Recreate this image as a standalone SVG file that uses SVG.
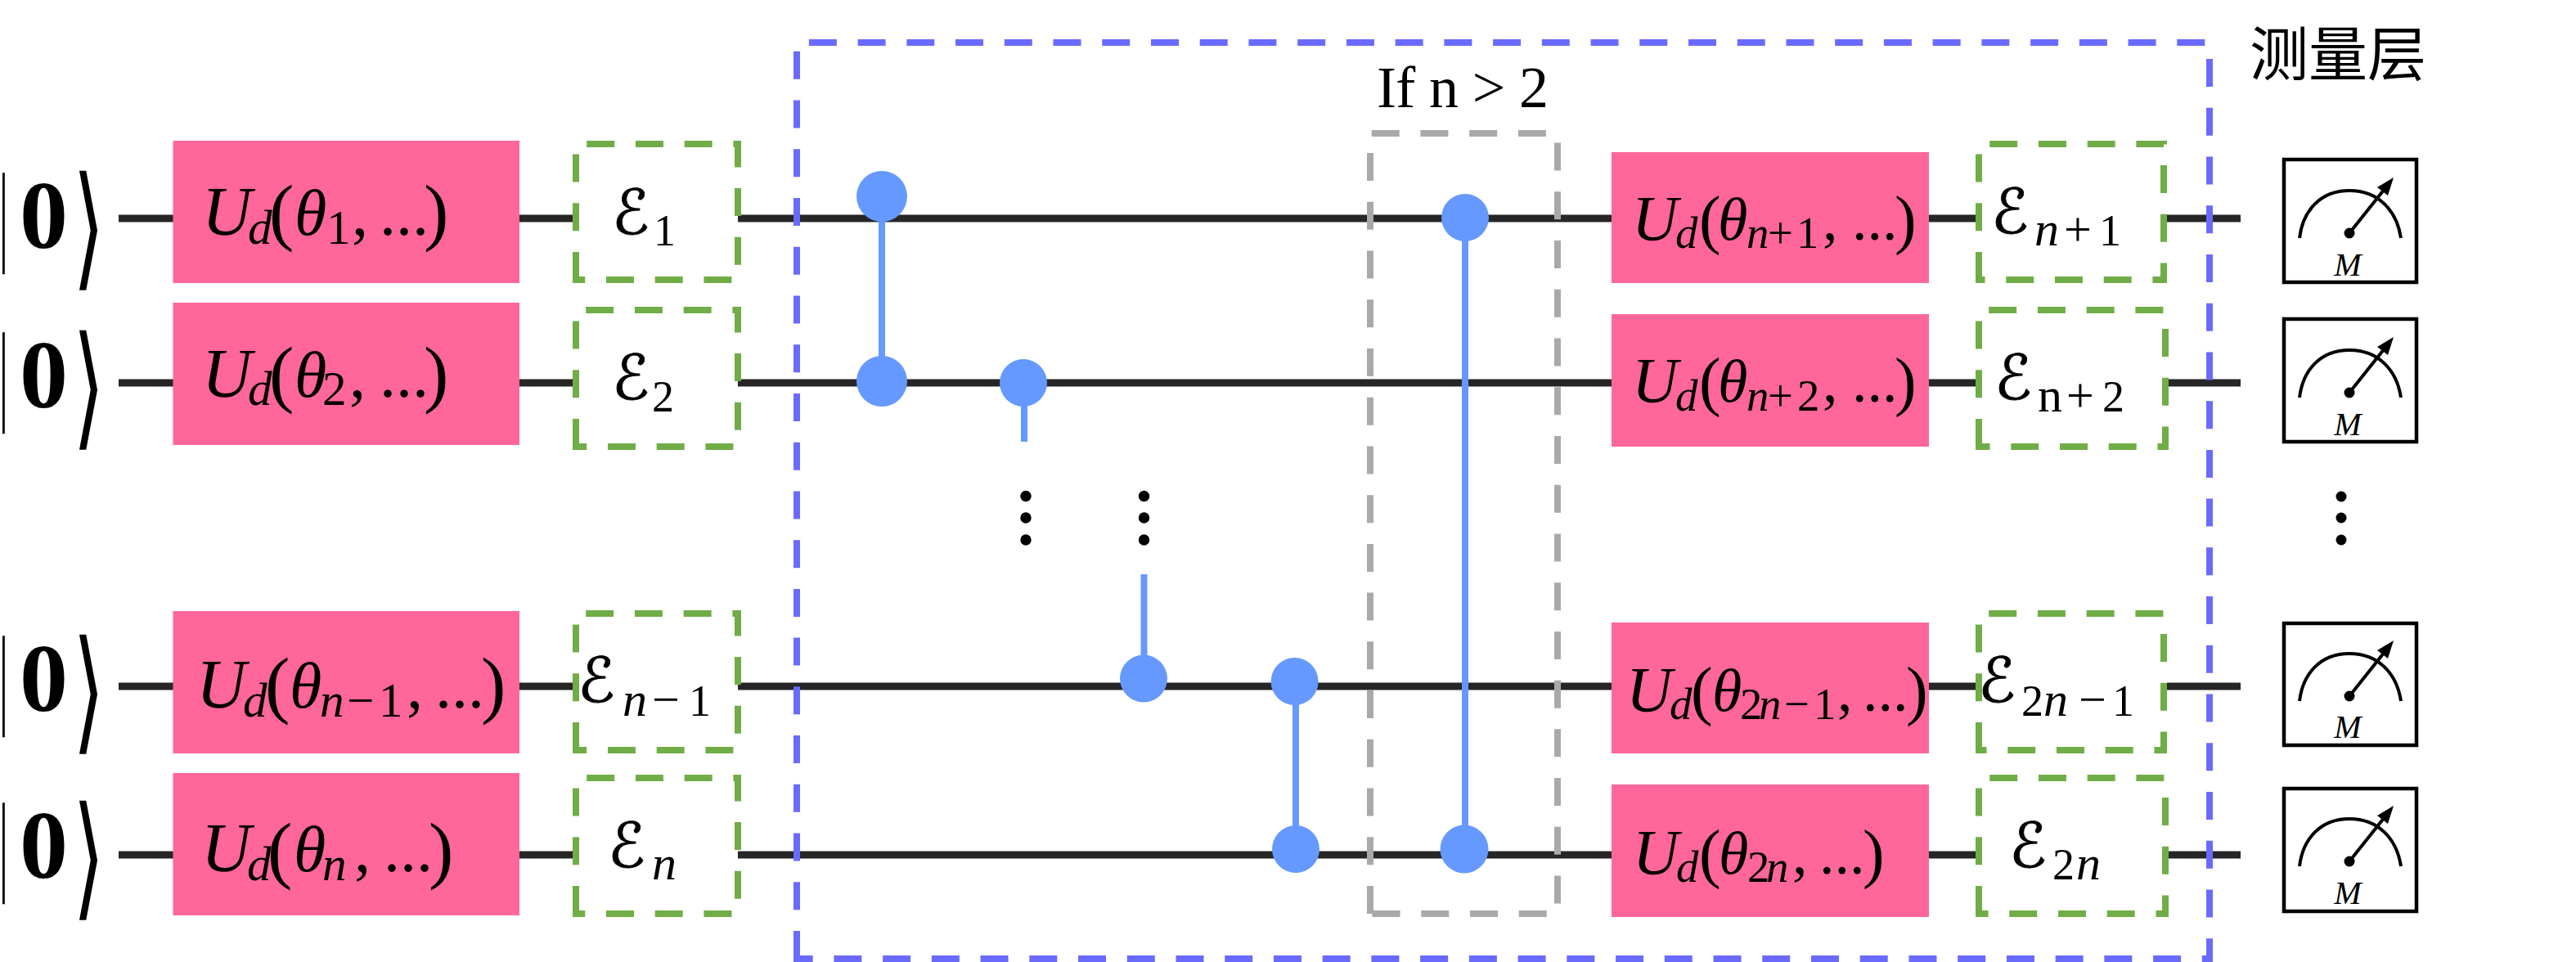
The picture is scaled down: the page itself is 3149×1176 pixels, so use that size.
<svg xmlns="http://www.w3.org/2000/svg" width="3149" height="1176" viewBox="0 0 3149 1176">
<style>
.bg{fill:#fff}
.wire{fill:none;stroke:#262626;stroke-width:9}
.ctrl{stroke:#6699FF;stroke-width:8;fill:none}
.dot{fill:#6699FF}
.pink{fill:#FF6699}
.green{fill:#fff;stroke:#70AD47;stroke-width:8;stroke-dasharray:34 25.73}
.blue{fill:none;stroke:#6A6AFF;stroke-width:8;stroke-dasharray:34 25.73}
.gray{fill:none;stroke:#A9A9A9;stroke-width:8;stroke-dasharray:34 25.73}
text{font-family:"Liberation Serif","Noto Sans CJK SC",serif;fill:#000}
.ml{font-size:80px;font-style:italic}
.mr{font-size:74px;font-style:italic}
.U{font-size:1.05em}
.s{font-size:.74em}
.r{font-style:normal}
.p{font-size:1.14em;font-style:normal}
.pr{font-size:1.08em;font-style:normal}
.ee{font-size:60px;font-style:italic}
.d{font-size:54px}
.E{font-family:"DejaVu Sans",sans-serif;font-size:76px;font-style:normal;stroke:#000;stroke-width:.8}
.z{font-size:118px;font-weight:bold}
.b{font-size:135px;stroke:#000;stroke-width:.6}
.a{font-family:"DejaVu Sans",sans-serif;font-size:149px}
.meter{fill:#fff;stroke:#000;stroke-width:4.5}
.arc{fill:none;stroke:#000;stroke-width:4}
.M{font-size:40px;font-style:italic;text-anchor:middle}
</style>
<defs>
<g id="gauge">
<path class="arc" d="M2811 291C2815 258 2836 233 2872 233C2908 233 2930 258 2935 291"/>
<line x1="2872" y1="285" x2="2915" y2="231" stroke="#000" stroke-width="4"/>
<polygon points="2926,217 2919,239 2906,229"/>
<circle cx="2872" cy="285" r="6.5"/>
</g>
</defs>
<rect class="bg" width="3149" height="1176"/>
<g id="connectors">
<path class="wire" d="M145 267H212M635 267H700M902 267H1970M2358 267H2416M2649 267H2739"/>
<path class="wire" d="M145 468H212M635 468H700M902 468H1970M2358 468H2416M2651 468H2739"/>
<path class="wire" d="M145 839H212M635 839H700M902 839H1970M2358 839H2416M2649 839H2739"/>
<path class="wire" d="M145 1045H212M635 1045H700M902 1045H1970M2358 1045H2416M2651 1045H2739"/>
<path class="ctrl" d="M1078 240V466M1252 468V540M1791 266V1038M1398.5 702V830M1584 833V1038"/>
</g>
<g id="if-box"><path class="gray" d="M1675 1117V163H1904V1117Z"/></g>
<g id="entangle-box"><path class="blue" d="M974 1172V52H2701V1172Z"/></g>
<g id="controls">
<circle class="dot" cx="1078" cy="240" r="31"/>
<circle class="dot" cx="1078" cy="466" r="31"/>
<circle class="dot" cx="1251" cy="468" r="29"/>
<circle class="dot" cx="1791" cy="266" r="29"/>
<circle class="dot" cx="1398" cy="829.5" r="29"/>
<circle class="dot" cx="1582.6" cy="833" r="29"/>
<circle class="dot" cx="1584" cy="1038" r="29"/>
<circle class="dot" cx="1790" cy="1038" r="29.5"/>
</g>
<g id="ellipsis">
<circle cx="1254" cy="606.5" r="6.7"/><circle cx="1254" cy="633" r="6.7"/><circle cx="1254" cy="660" r="6.7"/>
<circle cx="1398.5" cy="606.5" r="6.7"/><circle cx="1398.5" cy="633" r="6.7"/><circle cx="1398.5" cy="660" r="6.7"/>
<circle cx="2862" cy="607" r="6.5"/><circle cx="2862" cy="633" r="6.5"/><circle cx="2862" cy="660" r="6.5"/>
</g>
<g id="ket-1"><text class="b" transform="translate(-1 306) scale(.4 1)">|</text><text class="z" x="24" y="303">0</text><text class="a" transform="translate(89 333) scale(.67 1.1)">⟩</text></g>
<g id="ket-2"><text class="b" transform="translate(-1 501) scale(.4 1)">|</text><text class="z" x="24" y="498">0</text><text class="a" transform="translate(89 528) scale(.67 1.1)">⟩</text></g>
<g id="ket-3"><text class="b" transform="translate(-1 872) scale(.4 1)">|</text><text class="z" x="24" y="869">0</text><text class="a" transform="translate(89 900) scale(.67 1.1)">⟩</text></g>
<g id="ket-4"><text class="b" transform="translate(-1 1076) scale(.4 1)">|</text><text class="z" x="24" y="1073">0</text><text class="a" transform="translate(89 1103) scale(.67 1.1)">⟩</text></g>

<g id="u-1"><rect class="pink" x="211.5" y="172" width="423.5" height="174"/>
<text class="ml"><tspan class="U" x="247" y="287">U</tspan><tspan class="s" x="303" y="298">d</tspan><tspan class="p" x="329" y="289">(</tspan><tspan x="360" y="287">θ</tspan><tspan class="s r" x="399" y="298">1</tspan><tspan class="r" x="430" y="287">,</tspan><tspan class="r" x="464" y="287">...</tspan><tspan class="p" x="518" y="289">)</tspan></text></g>
<g id="u-2"><rect class="pink" x="211.5" y="370" width="423.5" height="174"/>
<text class="ml"><tspan class="U" x="247" y="485">U</tspan><tspan class="s" x="303" y="495">d</tspan><tspan class="p" x="329" y="487">(</tspan><tspan x="360" y="485">θ</tspan><tspan class="s r" x="394" y="495">2</tspan><tspan class="r" x="427" y="485">,</tspan><tspan class="r" x="464" y="485">...</tspan><tspan class="p" x="518" y="487">)</tspan></text></g>
<g id="u-3"><rect class="pink" x="211.5" y="747" width="423.5" height="174"/>
<text class="ml"><tspan class="U" x="240" y="865">U</tspan><tspan class="s" x="297" y="876">d</tspan><tspan class="p" x="324" y="867">(</tspan><tspan x="354" y="865">θ</tspan><tspan class="s" x="391" y="876">n</tspan><tspan class="s r" x="424" y="876">−</tspan><tspan class="s r" x="463" y="876">1</tspan><tspan class="r" x="497" y="865">,</tspan><tspan class="r" x="532" y="865">...</tspan><tspan class="p" x="588" y="867">)</tspan></text></g>
<g id="u-4"><rect class="pink" x="211.5" y="945" width="423.5" height="174"/>
<text class="ml"><tspan class="U" x="246" y="1065">U</tspan><tspan class="s" x="302" y="1076">d</tspan><tspan class="p" x="327" y="1069">(</tspan><tspan x="359" y="1065">θ</tspan><tspan class="s" x="394" y="1076">n</tspan><tspan class="r" x="433" y="1065">,</tspan><tspan class="r" x="469" y="1065">...</tspan><tspan class="p" x="524" y="1069">)</tspan></text></g>

<g id="e-1"><path class="green" d="M704 342V176H902V342Z"/>
<text class="ee"><tspan class="E" x="748" y="286">ℰ</tspan><tspan class="r d" x="799" y="300">1</tspan></text></g>
<g id="e-2"><path class="green" d="M704 546V379H902V546Z"/>
<text class="ee"><tspan class="E" x="748" y="488">ℰ</tspan><tspan class="r d" x="797" y="503">2</tspan></text></g>
<g id="e-3"><path class="green" d="M704 917V750H902V917Z"/>
<text class="ee"><tspan class="E" x="706" y="858">ℰ</tspan><tspan x="761" y="875">n</tspan><tspan class="r" x="797" y="875">−</tspan><tspan class="r d" x="842" y="875">1</tspan></text></g>
<g id="e-4"><path class="green" d="M704 1117V951H902V1117Z"/>
<text class="ee"><tspan class="E" x="743" y="1060">ℰ</tspan><tspan x="797" y="1075">n</tspan></text></g>

<g id="u-5"><rect class="pink" x="1970" y="186" width="388" height="160"/>
<text class="mr"><tspan class="U" x="1995" y="293">U</tspan><tspan class="s" x="2048" y="303">d</tspan><tspan class="pr" x="2077" y="295">(</tspan><tspan x="2100" y="293">θ</tspan><tspan class="s" x="2135" y="303">n</tspan><tspan class="s r" x="2161" y="303">+</tspan><tspan class="s r" x="2196" y="303">1</tspan><tspan class="r" x="2228" y="293">,</tspan><tspan class="r" x="2264" y="293">...</tspan><tspan class="pr" x="2316" y="295">)</tspan></text></g>
<g id="u-6"><rect class="pink" x="1970" y="384" width="388" height="162"/>
<text class="mr"><tspan class="U" x="1995" y="491">U</tspan><tspan class="s" x="2048" y="502">d</tspan><tspan class="pr" x="2077" y="493">(</tspan><tspan x="2100" y="491">θ</tspan><tspan class="s" x="2135" y="502">n</tspan><tspan class="s r" x="2161" y="502">+</tspan><tspan class="s r" x="2197" y="502">2</tspan><tspan class="r" x="2228" y="491">,</tspan><tspan class="r" x="2264" y="491">...</tspan><tspan class="pr" x="2316" y="493">)</tspan></text></g>
<g id="u-7"><rect class="pink" x="1970" y="761" width="388" height="160"/>
<text class="mr"><tspan class="U" x="1988" y="869">U</tspan><tspan class="s" x="2041" y="879">d</tspan><tspan class="pr" x="2067" y="871">(</tspan><tspan x="2093" y="869">θ</tspan><tspan class="s r" x="2127" y="879">2</tspan><tspan class="s" x="2150" y="879">n</tspan><tspan class="s r" x="2181" y="879">−</tspan><tspan class="s r" x="2217" y="879">1</tspan><tspan class="r" x="2246" y="869">,</tspan><tspan class="r" x="2277" y="869">...</tspan><tspan class="pr" x="2330" y="871">)</tspan></text></g>
<g id="u-8"><rect class="pink" x="1970" y="959" width="388" height="162"/>
<text class="mr"><tspan class="U" x="1996" y="1068">U</tspan><tspan class="s" x="2049" y="1078">d</tspan><tspan class="pr" x="2077" y="1070">(</tspan><tspan x="2101" y="1068">θ</tspan><tspan class="s r" x="2136" y="1078">2</tspan><tspan class="s" x="2159" y="1078">n</tspan><tspan class="r" x="2191" y="1068">,</tspan><tspan class="r" x="2224" y="1068">...</tspan><tspan class="pr" x="2277" y="1070">)</tspan></text></g>

<g id="e-5"><path class="green" d="M2419 342V176H2645V342Z"/>
<text class="ee"><tspan class="E" x="2434" y="285">ℰ</tspan><tspan x="2487" y="300">n</tspan><tspan class="r" x="2523" y="300">+</tspan><tspan class="r d" x="2566" y="300">1</tspan></text></g>
<g id="e-6"><path class="green" d="M2419 546V379H2647V546Z"/>
<text class="ee"><tspan class="E" x="2438" y="488">ℰ</tspan><tspan class="r" x="2491" y="503">n</tspan><tspan class="r" x="2526" y="503">+</tspan><tspan class="r d" x="2570" y="503">2</tspan></text></g>
<g id="e-7"><path class="green" d="M2419 917V750H2645V917Z"/>
<text class="ee"><tspan class="E" x="2418" y="858">ℰ</tspan><tspan class="r d" x="2471" y="875">2</tspan><tspan x="2498" y="875">n</tspan><tspan class="r" x="2541" y="875">−</tspan><tspan class="r d" x="2582" y="875">1</tspan></text></g>
<g id="e-8"><path class="green" d="M2419 1117V951H2647V1117Z"/>
<text class="ee"><tspan class="E" x="2456" y="1060">ℰ</tspan><tspan class="r d" x="2509" y="1075">2</tspan><tspan x="2538" y="1075">n</tspan></text></g>

<g id="meter-1"><rect class="meter" x="2792" y="195" width="162" height="150"/><use href="#gauge"/><text class="M" x="2870" y="337">M</text></g>
<g id="meter-2"><rect class="meter" x="2792" y="390" width="162" height="150"/><use href="#gauge" y="195"/><text class="M" x="2870" y="532">M</text></g>
<g id="meter-3"><rect class="meter" x="2792" y="762" width="162" height="149"/><use href="#gauge" y="566"/><text class="M" x="2870" y="902">M</text></g>
<g id="meter-4"><rect class="meter" x="2792" y="964" width="162" height="150"/><use href="#gauge" y="768"/><text class="M" x="2870" y="1105">M</text></g>

<text id="if-label" x="1683" y="131" font-size="72" textLength="210" lengthAdjust="spacing">If n &gt; 2</text>
<text id="layer-title" x="2750" y="92" font-size="72" style="font-family:'Noto Sans CJK SC','Liberation Sans',sans-serif">测量层</text>
</svg>
